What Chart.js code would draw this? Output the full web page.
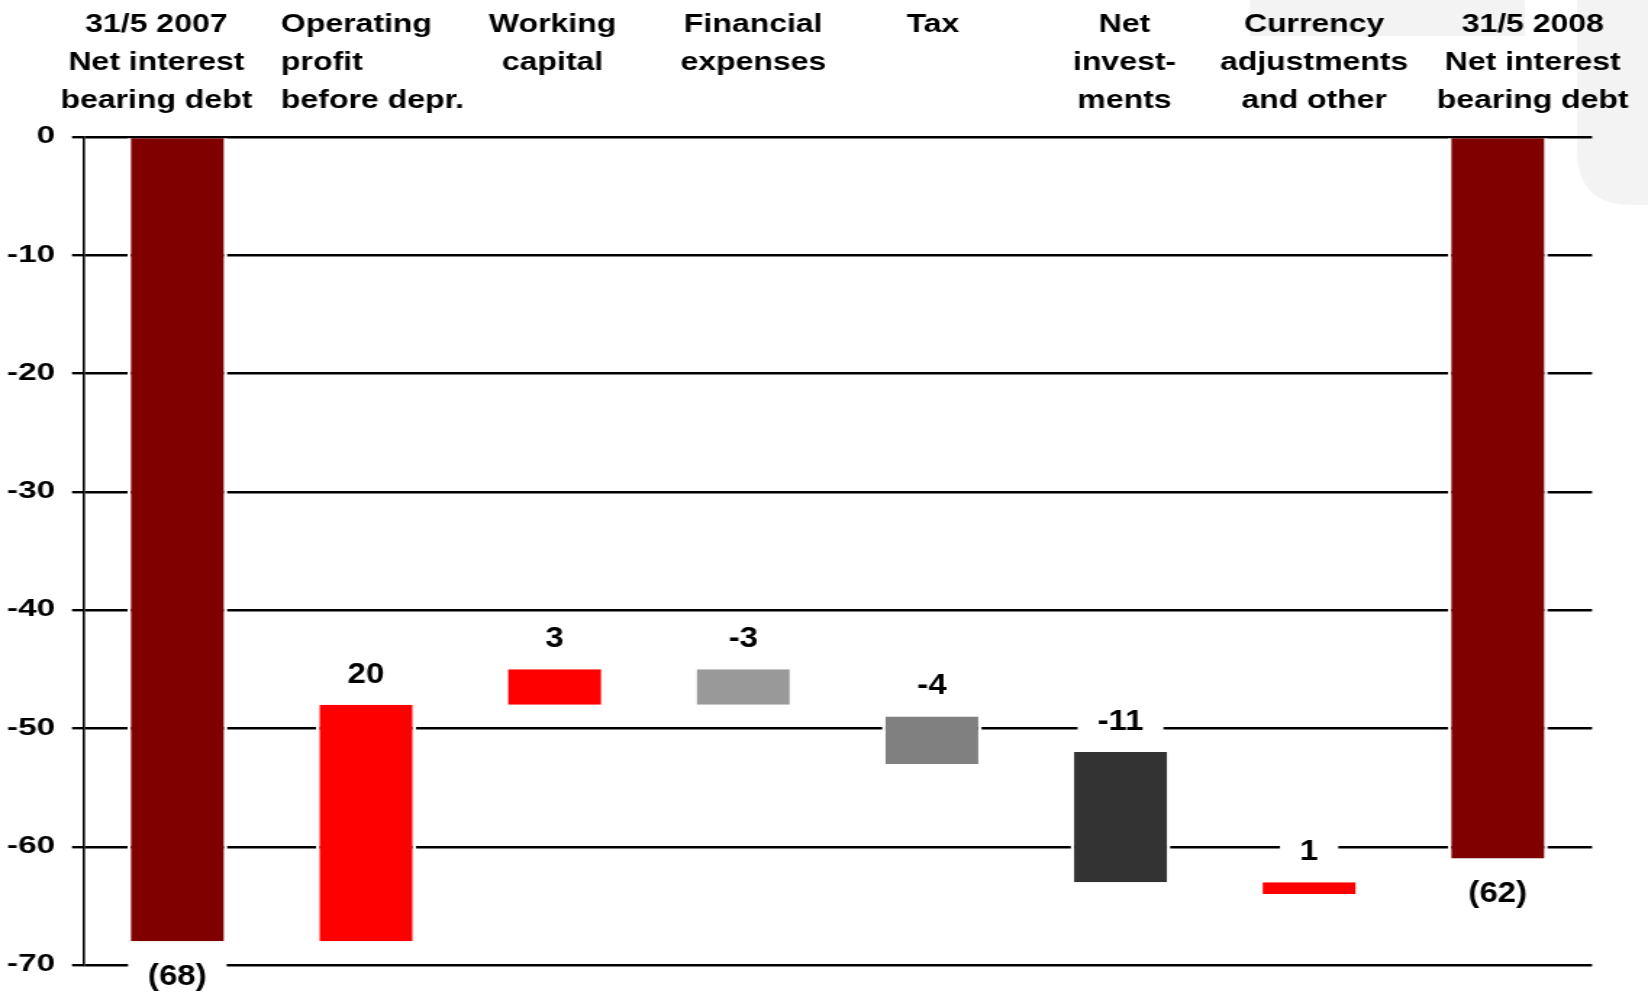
<!DOCTYPE html>
<html><head><meta charset="utf-8">
<script src="https://cdn.jsdelivr.net/npm/chart.js@4/dist/chart.umd.min.js"></script>
<style>
html,body{margin:0;padding:0;background:#fff;overflow:hidden;}
#wrap{position:absolute;left:0;top:0;width:1137px;height:995px;transform:scaleX(1.449428);transform-origin:0 0;}
</style></head><body>
<div id="wrap"><canvas id="c"></canvas></div>
<script>
// ---- data ----
const categories = [
  ["31/5 2007", "Net interest", "bearing debt"],
  ["Operating", "profit", "before depr."],
  ["Working", "capital"],
  ["Financial", "expenses"],
  ["Tax"],
  ["Net", "invest-", "ments"],
  ["Currency", "adjustments", "and other"],
  ["31/5 2008", "Net interest", "bearing debt"]
];
const barStart = [0, -68, -48, -45, -49, -52, -64, 0];
const barEnd   = [-68, -48, -45, -48, -53, -63, -63, -61];
const valueLabels = ["(68)", "20", "3", "-3", "-4", "-11", "1", "(62)"];
const yTickValues = [0, -10, -20, -30, -40, -50, -60, -70];

// ---- styles / layout ----
const barColors = ['#800000', '#ff0000', '#ff0000', '#999999', '#808080', '#333333', '#ff0000', '#800000'];
const S = 1648 / 1137;                 // horizontal stretch of the slide
const catAlign = ['center', 'left', 'center', 'center', 'center', 'center', 'center', 'center'];
const catShift = [-21, -85, -2, 10, 1, 4, 5, 35];   // full-size px
const FONT = "'Liberation Sans', Arial, Helvetica, sans-serif";

const bgDeco = {
  id: 'bgDeco',
  beforeDraw(chart) {
    const ctx = chart.ctx;
    ctx.save();
    ctx.fillStyle = '#f3f3f3';
    ctx.fillRect(1250 / S, 0, (1525 - 1250) / S, 36);
    const x2 = 1577 / S, xr = chart.width, yb = 205, ry = 55, rx = 55 / S;
    ctx.beginPath();
    ctx.moveTo(x2, 0);
    ctx.lineTo(xr, 0);
    ctx.lineTo(xr, yb);
    ctx.lineTo(x2 + rx, yb);
    ctx.quadraticCurveTo(x2, yb, x2, yb - ry);
    ctx.closePath();
    ctx.fill();
    ctx.restore();
  }
};

function stretchedText(ctx, t, x, y, k) {
  ctx.save();
  ctx.translate(x, y);
  ctx.scale(k, 1);
  ctx.fillText(t, 0, 0);
  ctx.restore();
}

const textPlugin = {
  id: 'texts',
  afterDatasetsDraw(chart) {
    const ctx = chart.ctx;
    const meta = chart.getDatasetMeta(0);
    const k = 1.1 / S;
    ctx.save();
    ctx.font = 'bold 30px ' + FONT;
    ctx.textAlign = 'center';
    ctx.textBaseline = 'middle';
    meta.data.forEach((bar, i) => {
      const top = Math.min(bar.y, bar.base), bottom = Math.max(bar.y, bar.base);
      const below = barStart[i] === 0;
      const cy = below ? bottom + 34 : top - 31.5;
      const w = ctx.measureText(valueLabels[i]).width * k;
      const padX = 20 / S;
      ctx.fillStyle = '#ffffff';
      ctx.fillRect(bar.x - w / 2 - padX, cy - 16, w + 2 * padX, 32);
      ctx.fillStyle = '#000000';
      stretchedText(ctx, valueLabels[i], bar.x, cy + 1, k);
    });
    // category headers
    const xs = chart.scales.x;
    const kh = 1.23 / S;
    ctx.font = 'bold 26px ' + FONT;
    ctx.textBaseline = 'alphabetic';
    categories.forEach((lines, i) => {
      const x = xs.getPixelForValue(i) + catShift[i] / S;
      ctx.textAlign = catAlign[i];
      lines.forEach((t, j) => stretchedText(ctx, t, x, 31.5 + 38.4 * j, kh));
    });
    ctx.restore();
  }
};

const chart = new Chart(document.getElementById('c'), {
  type: 'bar',
  data: {
    labels: categories.map(c => c.join(' ')),
    datasets: [{
      data: barStart.map((s, i) => [s, barEnd[i]]),
      backgroundColor: barColors,
      borderColor: '#ffffff',
      borderWidth: { left: 2.5, right: 2.5, top: 0, bottom: 0 },
      borderSkipped: false,
      barPercentage: 0.53,
      categoryPercentage: 1
    }]
  },
  options: {
    responsive: true,
    maintainAspectRatio: false,
    animation: false,
    layout: { padding: { top: 137, bottom: 30, left: 0, right: 38.6 } },
    plugins: { legend: { display: false }, tooltip: { enabled: false } },
    scales: {
      x: { display: false, offset: true },
      y: {
        min: -70, max: 0,
        afterFit(s) { s.width = 57.3; },
        afterBuildTicks(s) { s.ticks = yTickValues.map(v => ({ value: v })); },
        border: { display: true, color: '#000000', width: 1.6 },
        grid: { color: '#000000', lineWidth: 2.4, tickLength: 7.6, drawTicks: true },
        ticks: { color: '#000000', padding: 11.7, font: { family: FONT, weight: 'bold', size: 23 } }
      }
    }
  },
  plugins: [bgDeco, textPlugin]
});
</script>
</body></html>
